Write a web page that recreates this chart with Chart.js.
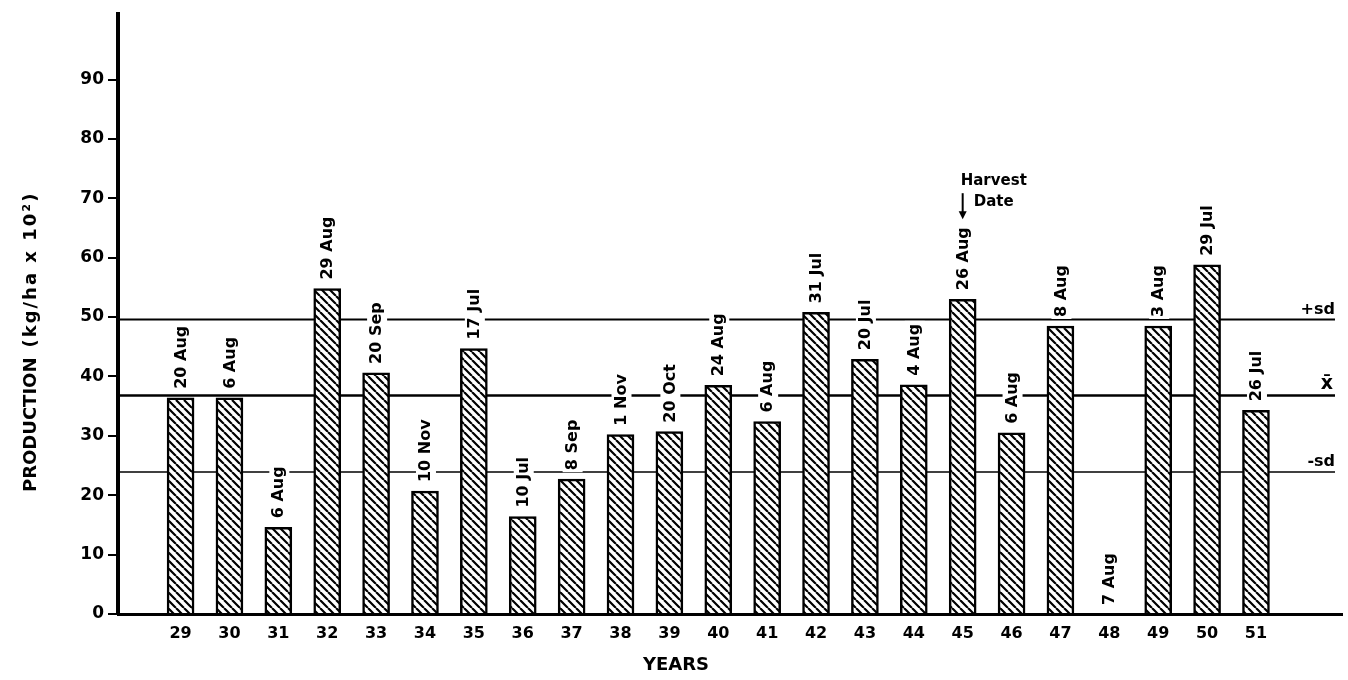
<!DOCTYPE html>
<html>
<head>
<meta charset="utf-8">
<script src="https://cdn.jsdelivr.net/npm/chart.js@4.4.1/dist/chart.umd.min.js"></script>
<style>
html,body{margin:0;padding:0;background:#fff;}
#wrap{width:1348px;height:680px;}
</style>
</head>
<body>
<div id="wrap"><canvas id="c" width="1348" height="680"></canvas></div>
<script>
// ---- data ----
const years = [29,30,31,32,33,34,35,36,37,38,39,40,41,42,43,44,45,46,47,48,49,50,51];
const production = [36.4,36.4,14.6,54.8,40.6,20.7,44.7,16.4,22.7,30.2,30.7,38.5,32.4,50.8,42.9,38.6,53.0,30.5,48.5,0,48.5,58.8,34.3];
const harvestDates = ['20 Aug','6 Aug','6 Aug','29 Aug','20 Sep','10 Nov','17 Jul','10 Jul','8 Sep','1 Nov','20 Oct','24 Aug','6 Aug','31 Jul','20 Jul','4 Aug','26 Aug','6 Aug','8 Aug','7 Aug','3 Aug','29 Jul','26 Jul'];
const yTickValues = [0,10,20,30,40,50,60,70,80,90];
const refLineLabels = ['+sd','x\u0304','-sd'];
const refLineValues = [49.6, 36.8, 23.9];
const annotationYear = 45;
const annotationText = ['Harvest','Date'];
const xTitle = 'YEARS';
const yTitleParts = ['PRODUCTION', '(kg/ha x 10\u00B2)'];

// ---- styles ----
const FONT = '"DejaVu Sans", "Liberation Sans", sans-serif';
const refLineWidths = [2, 2.6, 1.6];
const refLabelSizes = [16, 19, 16];

function makeHatch(){
  const s = 8;
  const c = document.createElement('canvas');
  c.width = s; c.height = s;
  const g = c.getContext('2d');
  g.fillStyle = '#fff'; g.fillRect(0,0,s,s);
  g.strokeStyle = '#000'; g.lineWidth = 2.2;
  g.beginPath();
  g.moveTo(0,0); g.lineTo(s,s);
  g.moveTo(-s,0); g.lineTo(0,s);
  g.moveTo(s,0); g.lineTo(2*s,s);
  g.stroke();
  return g.createPattern(c,'repeat');
}

const overlay = {
  id: 'overlay',
  beforeDatasetsDraw(chart){
    const {ctx, chartArea, scales:{y}} = chart;
    ctx.save();
    ctx.strokeStyle = '#000';
    ctx.fillStyle = '#000';
    const xEnd = chartArea.right - 7;
    refLineValues.forEach((v,i)=>{
      const py = y.getPixelForValue(v);
      ctx.lineWidth = refLineWidths[i];
      ctx.beginPath();
      ctx.moveTo(chartArea.left, py);
      ctx.lineTo(xEnd, py);
      ctx.stroke();
      ctx.font = 'bold ' + refLabelSizes[i] + 'px ' + FONT;
      ctx.textAlign = 'right';
      ctx.textBaseline = 'bottom';
      ctx.fillText(refLineLabels[i], xEnd - (i === 1 ? 2 : 0), py - 2);
    });
    ctx.restore();
  },
  afterDatasetsDraw(chart){
    const {ctx, scales:{x,y}} = chart;
    ctx.save();
    ctx.font = 'bold 16px ' + FONT;
    let annTop = null, annX = null;
    years.forEach((yr,i)=>{
      const txt = harvestDates[i];
      const px = x.getPixelForValue(yr) + 1;
      const py = y.getPixelForValue(production[i]) - 9;
      const w = ctx.measureText(txt).width;
      ctx.fillStyle = '#fff';
      ctx.fillRect(px - 10, py - w - 3, 20, w + 5);
      ctx.save();
      ctx.translate(px, py);
      ctx.rotate(-Math.PI/2);
      ctx.fillStyle = '#000';
      ctx.textAlign = 'left';
      ctx.textBaseline = 'middle';
      ctx.fillText(txt, 0, 0);
      ctx.restore();
      if (yr === annotationYear){ annTop = py - w; annX = px - 1; }
    });
    if (annTop !== null){
      const ab = annTop - 8;
      ctx.strokeStyle = '#000'; ctx.fillStyle = '#000';
      ctx.lineWidth = 2;
      ctx.beginPath(); ctx.moveTo(annX, ab - 26); ctx.lineTo(annX, ab - 6); ctx.stroke();
      ctx.beginPath(); ctx.moveTo(annX - 4, ab - 8); ctx.lineTo(annX + 4, ab - 8); ctx.lineTo(annX, ab); ctx.closePath(); ctx.fill();
      ctx.font = 'bold 15px ' + FONT;
      ctx.textAlign = 'left'; ctx.textBaseline = 'middle';
      ctx.fillText(annotationText[0], annX - 2, ab - 38);
      ctx.fillText(annotationText[1], annX + 11, ab - 17);
    }
    ctx.restore();
  },
  afterDraw(chart){
    const {ctx} = chart;
    ctx.save();
    ctx.fillStyle = '#000';
    ctx.font = 'bold 18px ' + FONT;
    ctx.textAlign = 'center'; ctx.textBaseline = 'middle';
    ctx.fillText(xTitle, 676, 665);
    ctx.translate(31, 492);
    ctx.rotate(-Math.PI/2);
    ctx.textAlign = 'left';
    ctx.fillText(yTitleParts[0], 0, 0);
    const w0 = ctx.measureText(yTitleParts[0]).width;
    ctx.letterSpacing = '2px';
    ctx.fillText(yTitleParts[1], w0 + 10, 0);
    ctx.restore();
  }
};

Chart.defaults.font.family = FONT;
Chart.defaults.color = '#000';

new Chart(document.getElementById('c'), {
  type: 'bar',
  data: {
    datasets: [{
      data: years.map((yr,i)=>({x: yr, y: production[i]})),
      backgroundColor: makeHatch(),
      borderColor: '#000',
      borderWidth: 2.5,
      barThickness: 27,
      borderSkipped: 'bottom'
    }]
  },
  options: {
    responsive: false,
    devicePixelRatio: 1,
    animation: false,
    layout: { padding: { left: 0, right: 6, top: 10, bottom: 0 } },
    plugins: { legend: {display:false}, tooltip: {enabled:false} },
    scales: {
      x: {
        type: 'linear',
        offset: false,
        min: 27.72,
        max: 52.76,
        afterFit(s){ s.height = 66; },
        afterBuildTicks(s){ s.ticks = years.map(v=>({value:v})); },
        grid: { display: false, offset: false },
        border: { display: true, width: 3, color: '#000' },
        ticks: { autoSkip: false, maxRotation: 0, padding: 2, font: { size: 16, weight: 'bold' }, callback: v => String(v) }
      },
      y: {
        min: 0,
        max: 101,
        afterFit(s){ s.width = 118; },
        afterBuildTicks(s){ s.ticks = yTickValues.map(v=>({value:v})); },
        grid: { display: true, drawOnChartArea: false, drawTicks: true, tickLength: 10, lineWidth: 2, color: '#000' },
        border: { display: true, width: 4, color: '#000' },
        ticks: { padding: 4, font: { size: 17, weight: 'bold' }, callback: v => String(v) }
      }
    }
  },
  plugins: [overlay]
});
</script>
</body>
</html>
